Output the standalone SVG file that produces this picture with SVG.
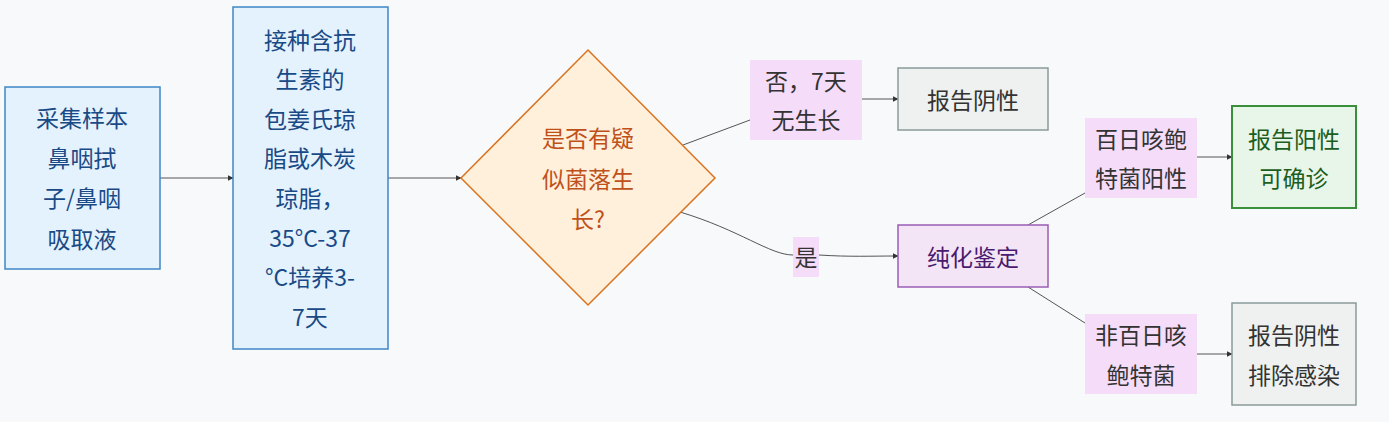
<svg xmlns="http://www.w3.org/2000/svg" width="1389" height="422" viewBox="0 0 1389 422">
<defs>
<style>
text{font-family:"Noto Sans CJK SC","Noto Sans",sans-serif;font-size:23px;text-anchor:middle;dominant-baseline:central}
.blue rect{fill:#e3f2fd;stroke:#3f86c6;stroke-width:1.5}
.blue text{fill:#1a4a86}
.grey rect{fill:#eef1f0;stroke:#8b9a9a;stroke-width:1.5}
.grey text{fill:#333}
.purple rect{fill:#f3e5f5;stroke:#9a5cb4;stroke-width:1.5}
.purple text{fill:#4a1a6e}
.green rect{fill:#e8f5e9;stroke:#3a8f3a;stroke-width:2}
.green text{fill:#1b5e20}
.lbl rect{fill:#f5dcf8}
.lbl text{fill:#333}
.edge{fill:none;stroke:#555;stroke-width:1}
</style>
<marker id="arr" viewBox="0 0 10 10" refX="9" refY="5" markerWidth="6" markerHeight="6" orient="auto"><path d="M0,0L10,5L0,10z" fill="#333"/></marker>
</defs>
<rect width="1389" height="422" fill="#f8f9fb"/>
<g id="connectors">
<path class="edge" d="M160,178H233" marker-end="url(#arr)"/>
<path class="edge" d="M388,178H461" marker-end="url(#arr)"/>
<path class="edge" d="M683,145L750,120"/>
<path class="edge" d="M862,99H898" marker-end="url(#arr)"/>
<path class="edge" d="M680,212C740,230 770,255 793,255"/>
<path class="edge" d="M819,255C850,257 870,256 898,256" marker-end="url(#arr)"/>
<path class="edge" d="M1028,225L1085,193"/>
<path class="edge" d="M1197,157H1232" marker-end="url(#arr)"/>
<path class="edge" d="M1028,287L1085,323"/>
<path class="edge" d="M1197,354H1232" marker-end="url(#arr)"/>
</g>
<g id="sample" class="blue"><rect x="5" y="87" width="155" height="182"/>
<text x="82" y="117">采集样本</text><text x="82" y="157">鼻咽拭</text><text x="82" y="197">子/鼻咽</text><text x="82" y="238">吸取液</text></g>
<g id="culture" class="blue"><rect x="233" y="7" width="155" height="342"/>
<text x="310" y="39">接种含抗</text><text x="310" y="78">生素的</text><text x="310" y="118">包姜氏琼</text><text x="310" y="157">脂或木炭</text><text x="310" y="197">琼脂，</text><text x="310" y="237">35°C-37</text><text x="310" y="276">°C培养3-</text><text x="310" y="316">7天</text></g>
<g id="decision"><polygon points="588,50 715,178 588,305 461,178" fill="#fff0dc" stroke="#d9731f" stroke-width="1.5"/>
<text x="588" y="137" fill="#c0501a">是否有疑</text><text x="588" y="178" fill="#c0501a">似菌落生</text><text x="588" y="218" fill="#c0501a">长?</text></g>
<g id="lbl-no" class="lbl"><rect x="750" y="60" width="112" height="80"/><text x="806" y="80">否，7天</text><text x="806" y="119">无生长</text></g>
<g id="neg1" class="grey"><rect x="898" y="68" width="150" height="62"/><text x="973" y="99">报告阴性</text></g>
<g id="lbl-yes" class="lbl"><rect x="793" y="237" width="26" height="40"/><text x="806" y="256">是</text></g>
<g id="purify" class="purple"><rect x="898" y="225" width="150" height="62"/><text x="973" y="256">纯化鉴定</text></g>
<g id="lbl-pos" class="lbl"><rect x="1085" y="118" width="112" height="80"/><text x="1141" y="138">百日咳鲍</text><text x="1141" y="177">特菌阳性</text></g>
<g id="pos" class="green"><rect x="1232" y="106" width="124" height="102"/><text x="1294" y="138">报告阳性</text><text x="1294" y="177">可确诊</text></g>
<g id="lbl-non" class="lbl"><rect x="1085" y="314" width="112" height="80"/><text x="1141" y="334">非百日咳</text><text x="1141" y="374">鲍特菌</text></g>
<g id="neg2" class="grey"><rect x="1232" y="303" width="124" height="102"/><text x="1294" y="334">报告阴性</text><text x="1294" y="374">排除感染</text></g>
</svg>
